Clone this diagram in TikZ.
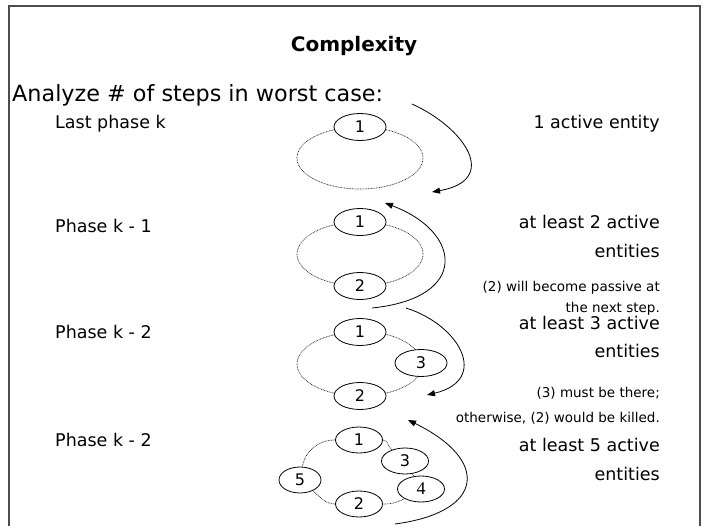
\documentclass[tikz,border=0pt]{standalone}
\usepackage{fontspec}
\setmainfont{DejaVu Sans}
\newfontfamily\serifnum{Liberation Serif}
\usetikzlibrary{shapes.geometric,arrows.meta,backgrounds}
\begin{document}
\begin{tikzpicture}[x=1pt,y=-1pt,
  ent/.style={draw, ellipse, fill=white, minimum width=52pt, minimum height=27pt, inner sep=0pt, line width=0.8pt, font=\fontsize{16}{18}\selectfont},
  ents/.style={ent, minimum width=47pt, minimum height=26pt},
  ring/.style={line width=0.7pt, dash pattern=on 0.8pt off 0.8pt, black!85},
  lab/.style={anchor=west, inner sep=0pt, font=\fontsize{17.5}{20}\selectfont},
  rlab/.style={anchor=east, inner sep=0pt, font=\fontsize{17.5}{20}\selectfont},
  note/.style={anchor=east, inner sep=0pt, font=\fontsize{13.5}{16}\selectfont},
  flow/.style={line width=0.8pt, -{Triangle[length=8pt,width=6pt]}},
  frame/.style={line width=1.2pt, black!70}]
\useasboundingbox (0,0) rectangle (708,526);
\draw[frame] (9,526) -- (9,6) -- (700,6) -- (700,526);

\node[font=\bfseries\fontsize{20}{24}\selectfont] (title) at (354,46) {Complexity};
\node[anchor=west, inner sep=0pt, font=\fontsize{22.3}{26}\selectfont] (analyze) at (12,95) {Analyze \# of steps in worst case:};

% left labels
\node[lab] (p1) at (55,124) {Last phase k};
\node[lab] (p2) at (55,226) {Phase k - 1};
\node[lab] (p3) at (55,332) {Phase k - 2};
\node[lab] (p4) at (55,440) {Phase k - 2};

% right labels
\node[rlab] (d1) at (660,124) {1 active entity};
\node[rlab] (d2a) at (660,222) {at least 2 active};
\node[rlab] (d2b) at (660,251) {entities};
\node[note] (n1a) at (660,288) {(2) will become passive at};
\node[note] (n1b) at (660,309) {the next step.};
\node[rlab] (d3a) at (660,323) {at least 3 active};
\node[rlab] (d3b) at (660,351) {entities};
\node[note] (n2a) at (660,393) {(3) must be there;};
\node[note] (n2b) at (660,418) {otherwise, (2) would be killed.};
\node[rlab] (d4a) at (660,445) {at least 5 active};
\node[rlab] (d4b) at (660,474) {entities};

% ring 1
\node[ent] (r1a) at (360,127) {1};
% ring 2
\node[ent] (r2a) at (360,222) {1};
\node[ent] (r2b) at (360,286) {2};
% ring 3
\node[ent] (r3a) at (360,332) {1};
\node[ent] (r3c) at (421,363) {3};
\node[ent] (r3b) at (360,396) {2};
% ring 4
\node[ents] (r4a) at (359,440) {1};
\node[ents] (r4c) at (405,461) {3};
\node[ents, minimum width=42pt] (r4e) at (300,480) {5};
\node[ents, font=\serifnum\fontsize{18}{20}\selectfont] (r4d) at (421,489) {4};
\node[ents] (r4b) at (359,504) {2};

\begin{scope}[on background layer]
  \draw[ring] (r1a.center) arc[start angle=90, end angle=450, x radius=63pt, y radius=31pt];
  \draw[ring] (r2a.center) arc[start angle=90, end angle=270, x radius=63pt, y radius=32pt];
  \draw[ring] (r2b.center) arc[start angle=-90, end angle=90, x radius=63pt, y radius=32pt];
  \draw[ring] (r3a.center) arc[start angle=90, end angle=270, x radius=63pt, y radius=32pt];
  \draw[ring] (r3b.center) arc[start angle=-90, end angle=0, x radius=63pt, y radius=32pt];
  \draw[ring] (r3c.center) arc[start angle=0, end angle=90, x radius=63pt, y radius=32pt];
\end{scope}
\draw[ring] (r4a) to[out=180, in=80] (r4e);
\draw[ring] (r4a) to[out=0, in=140] (r4c);
\draw[ring] (r4c) -- (r4d);
\draw[ring] (r4d) to[out=210, in=0] (r4b);
\draw[ring] (r4b) to[out=180, in=-40] (r4e);

% arrows between phases
\coordinate (a1s) at (412,104);
\coordinate (a1e) at (432,192);
\coordinate (a2s) at (372,308);
\coordinate (a2e) at (385,203);
\coordinate (a3s) at (406,308);
\coordinate (a3e) at (427,395);
\coordinate (a4s) at (395,524);
\coordinate (a4e) at (408,420);
\draw[flow] (a1s) .. controls (465,128) and (500,180) .. (a1e);
\draw[flow] (a2s) .. controls (470,298) and (462,232) .. (a2e);
\draw[flow] (a3s) .. controls (460,325) and (490,380) .. (a3e);
\draw[flow] (a4s) .. controls (485,512) and (490,460) .. (a4e);
\end{tikzpicture}
\end{document}
